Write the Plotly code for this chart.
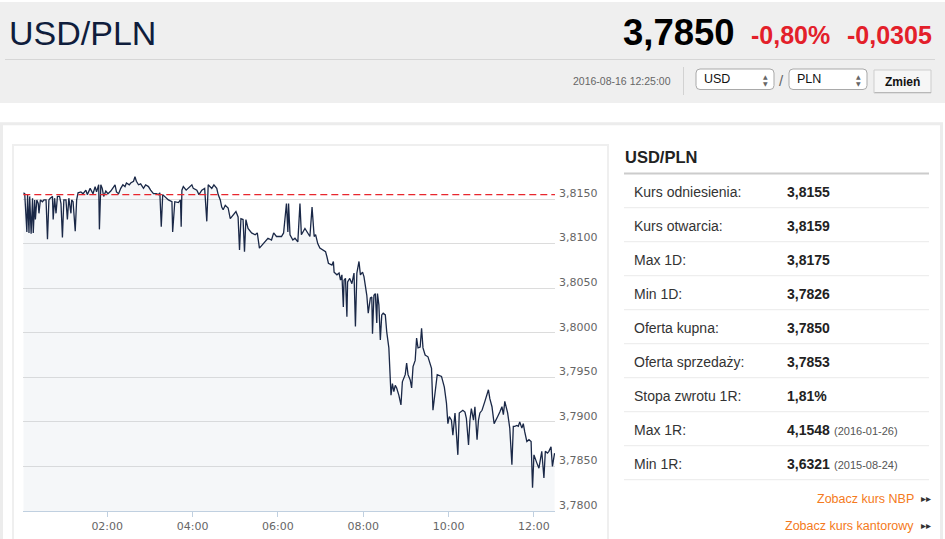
import plotly.graph_objects as go

# ---------------- data ----------------
pair = "USD/PLN"
last_price = "3,7850"
change_pct = "-0,80%"
change_abs = "-0,0305"
timestamp = "2016-08-16 12:25:00"
trade_date = "2016-08-16"
reference_rate = 3.8155  # "Kurs odniesienia" (red dashed line)

times = [
    "00:02", "00:04", "00:07", "00:08", "00:10", "00:11", "00:13", "00:15", "00:16", "00:18",
    "00:19", "00:21", "00:23", "00:24", "00:26", "00:29", "00:31", "00:34", "00:36", "00:38",
    "00:40", "00:43", "00:44", "00:46", "00:48", "00:50", "00:53", "00:55", "00:57", "00:59",
    "01:02", "01:04", "01:06", "01:09", "01:10", "01:12", "01:15", "01:17", "01:19",
    "01:23", "01:26", "01:30", "01:32", "01:36", "01:40", "01:43", "01:45", "01:48", "01:49",
    "01:51", "01:53", "01:55", "01:58", "02:01", "02:05", "02:08", "02:11", "02:13", "02:16",
    "02:19", "02:22", "02:25", "02:27", "02:31", "02:33", "02:37", "02:39", "02:41", "02:44",
    "02:47", "02:51", "02:54", "02:58", "03:01", "03:05", "03:09", "03:12", "03:14", "03:16",
    "03:18",
    "03:21", "03:26", "03:31", "03:32", "03:35", "03:40", "03:43", "03:44", "03:45", "03:47",
    "03:51", "03:54", "03:59", "04:01", "04:06", "04:09", "04:13", "04:17", "04:20", "04:22",
    "04:27", "04:30", "04:34", "04:36", "04:39", "04:41", "04:43", "04:46", "04:50", "04:53",
    "04:57", "05:01", "05:04", "05:06", "05:08", "05:11", "05:13", "05:15", "05:18", "05:23",
    "05:28", "05:31", "05:34", "05:36", "05:39", "05:43", "05:46", "05:51", "05:54", "05:58",
    "06:03", "06:05", "06:08", "06:12", "06:14", "06:15", "06:17", "06:21", "06:24", "06:28",
    "06:31", "06:33", "06:38", "06:42", "06:45", "06:48", "06:51", "06:53", "06:56", "06:59",
    "07:04", "07:07", "07:09", "07:11", "07:16", "07:18", "07:19", "07:23", "07:26", "07:28",
    "07:30", "07:32", "07:33", "07:35", "07:37", "07:38", "07:41", "07:44", "07:47", "07:49",
    "07:51", "07:54", "07:56", "07:59", "08:01", "08:05", "08:07", "08:10", "08:12", "08:13",
    "08:15", "08:17", "08:19", "08:20", "08:22", "08:24", "08:26", "08:28", "08:31", "08:33",
    "08:36", "08:39", "08:41", "08:43", "08:45", "08:47", "08:50", "08:53", "08:55", "08:59",
    "09:01", "09:03", "09:06", "09:08", "09:10", "09:13", "09:15", "09:17", "09:20", "09:22",
    "09:24", "09:27", "09:31", "09:34", "09:36", "09:38", "09:41",
    "09:44", "09:50", "09:54", "09:57", "09:59", "10:01", "10:04", "10:06", "10:09", "10:13",
    "10:15", "10:20", "10:23", "10:25", "10:28", "10:30", "10:32", "10:35", "10:37", "10:40",
    "10:42", "10:44", "10:47", "10:51", "10:54", "10:56", "10:58", "11:01", "11:04", "11:07",
    "11:09", "11:12", "11:15", "11:17", "11:19", "11:23", "11:26", "11:29", "11:31", "11:33",
    "11:36", "11:38", "11:40", "11:43", "11:45", "11:47", "11:50", "11:53", "11:56", "11:58",
    "12:00", "12:04", "12:07", "12:11", "12:14", "12:16", "12:19", "12:21", "12:24", "12:26",
    "12:29",
]

prices = [
    3.8157, 3.8156, 3.8113, 3.8155, 3.8112, 3.8153, 3.8111, 3.8151, 3.8112, 3.8149,
    3.8127, 3.8149, 3.8145, 3.8134, 3.8149, 3.8147, 3.8149, 3.8149, 3.8105, 3.8149,
    3.8151, 3.8153, 3.8127, 3.8151, 3.8134, 3.8153, 3.8153, 3.8145, 3.8107, 3.8149,
    3.8149, 3.8127, 3.8151, 3.8134, 3.8149, 3.8147, 3.8114, 3.8149, 3.8157,
    3.8158, 3.8156, 3.8160, 3.8155, 3.8162, 3.8156, 3.8164, 3.8158, 3.8166, 3.8116,
    3.8166, 3.8162, 3.8153, 3.8159, 3.8156, 3.8159, 3.8162, 3.8166, 3.8158, 3.8156,
    3.8162, 3.8166, 3.8164, 3.8168, 3.8166, 3.8168, 3.8170, 3.8175, 3.8170, 3.8166,
    3.8167, 3.8162, 3.8166, 3.8164, 3.8160, 3.8156, 3.8156, 3.8155, 3.8157, 3.8119,
    3.8155,
    3.8153, 3.8149, 3.8147, 3.8113, 3.8147, 3.8146, 3.8149, 3.8119, 3.8160, 3.8164,
    3.8160, 3.8162, 3.8166, 3.8162, 3.8160, 3.8155, 3.8160, 3.8162, 3.8125, 3.8166,
    3.8162, 3.8166, 3.8162, 3.8155, 3.8149, 3.8141, 3.8138, 3.8143, 3.8140, 3.8128,
    3.8132, 3.8136, 3.8130, 3.8093, 3.8128, 3.8127, 3.8091, 3.8127, 3.8117, 3.8112,
    3.8110, 3.8112, 3.8095, 3.8097, 3.8100, 3.8104, 3.8106, 3.8104, 3.8112, 3.8108,
    3.8108, 3.8108, 3.8112, 3.8145, 3.8113, 3.8145, 3.8110, 3.8104, 3.8106, 3.8102,
    3.8145, 3.8110, 3.8117, 3.8112, 3.8108, 3.8141, 3.8108, 3.8110, 3.8100, 3.8095,
    3.8093, 3.8091, 3.8085, 3.8078, 3.8076, 3.8080, 3.8068, 3.8065, 3.8067, 3.8059,
    3.8065, 3.8029, 3.8059, 3.8061, 3.8018, 3.8057, 3.8061, 3.8055, 3.8067, 3.8007,
    3.8067, 3.8080, 3.8065, 3.8068, 3.8063, 3.8042, 3.8022, 3.8039, 3.8040, 3.7999,
    3.8042, 3.8044, 3.8011, 3.8044, 3.8031, 3.7992, 3.8020, 3.8022, 3.8020, 3.8001,
    3.7983, 3.7930, 3.7943, 3.7934, 3.7941, 3.7938, 3.7930, 3.7919, 3.7945, 3.7953,
    3.7966, 3.7953, 3.7947, 3.7938, 3.7962, 3.7969, 3.7994, 3.7983, 3.7984, 3.8005,
    3.7983, 3.7975, 3.7973, 3.7966, 3.7960, 3.7913, 3.7934,
    3.7953, 3.7951, 3.7939, 3.7921, 3.7898, 3.7906, 3.7902, 3.7885, 3.7910, 3.7863,
    3.7910, 3.7913, 3.7911, 3.7904, 3.7874, 3.7902, 3.7915, 3.7902, 3.7917, 3.7880,
    3.7902, 3.7910, 3.7913, 3.7923, 3.7930, 3.7936, 3.7926, 3.7917, 3.7898, 3.7902,
    3.7906, 3.7911, 3.7917, 3.7908, 3.7923, 3.7910, 3.7893, 3.7852, 3.7895, 3.7895,
    3.7896, 3.7895, 3.7900, 3.7893, 3.7898, 3.7889, 3.7878, 3.7880, 3.7878, 3.7826,
    3.7863, 3.7854, 3.7848, 3.7867, 3.7837, 3.7867, 3.7865, 3.7867, 3.7872, 3.7850,
    3.7865,
]

y_tick_values = [3.7800, 3.7850, 3.7900, 3.7950, 3.8000, 3.8050, 3.8100, 3.8150, 3.8200]
y_tick_labels = ["3,7800", "3,7850", "3,7900", "3,7950", "3,8000", "3,8050", "3,8100", "3,8150", ""]
x_tick_labels = ["02:00", "04:00", "06:00", "08:00", "10:00", "12:00"]
x_range = ["00:02:00", "12:29:36"]

stat_labels = ["Kurs odniesienia:", "Kurs otwarcia:", "Max 1D:", "Min 1D:", "Oferta kupna:",
               "Oferta sprzedaży:", "Stopa zwrotu 1R:", "Max 1R:", "Min 1R:"]
stat_values = ["3,8155", "3,8159", "3,8175", "3,7826", "3,7850", "3,7853", "1,81%", "4,1548", "3,6321"]
stat_notes = ["", "", "", "", "", "", "", "(2016-01-26)", "(2015-08-24)"]
links = ["Zobacz kurs NBP", "Zobacz kurs kantorowy"]

# ---------------- layout helpers (pixel -> paper) ----------------
W, H = 945, 539
FONT = "Liberation Sans, Arial, sans-serif"


def px(x):
    return x / W


def py(y):
    return 1 - y / H


def rect(x0, y0, x1, y1, fill=None, line=None, lw=1, layer="below"):
    return dict(type="rect", xref="paper", yref="paper",
                x0=px(x0), x1=px(x1), y0=py(y1), y1=py(y0),
                fillcolor=fill if fill else "rgba(0,0,0,0)",
                line=dict(color=line if line else "rgba(0,0,0,0)", width=lw if line else 0),
                layer=layer)


def hline(x0, x1, y, color, lw=1):
    return dict(type="line", xref="paper", yref="paper", x0=px(x0), x1=px(x1),
                y0=py(y), y1=py(y), line=dict(color=color, width=lw), layer="below")


def rrect(x0, y0, x1, y1, r, fill, line):
    p = (f"M {px(x0 + r)},{py(y0)} L {px(x1 - r)},{py(y0)} Q {px(x1)},{py(y0)} {px(x1)},{py(y0 + r)} "
         f"L {px(x1)},{py(y1 - r)} Q {px(x1)},{py(y1)} {px(x1 - r)},{py(y1)} "
         f"L {px(x0 + r)},{py(y1)} Q {px(x0)},{py(y1)} {px(x0)},{py(y1 - r)} "
         f"L {px(x0)},{py(y0 + r)} Q {px(x0)},{py(y0)} {px(x0 + r)},{py(y0)} Z")
    return dict(type="path", xref="paper", yref="paper", path=p, fillcolor=fill,
                line=dict(color=line, width=1), layer="below")


def text(x, y, s, size, color="#333", xanchor="left", family=FONT):
    return dict(x=px(x), y=py(y), xref="paper", yref="paper", text=s, showarrow=False,
                xanchor=xanchor, yanchor="middle", font=dict(family=family, size=size, color=color),
                align=xanchor if xanchor != "center" else "center")


# ---------------- figure ----------------
x_dates = [f"{trade_date} {t}" for t in times]

fig = go.Figure()
fig.add_trace(go.Scatter(
    x=x_dates, y=prices, mode="lines",
    line=dict(color="#1a2847", width=1.3),
    fill="tozeroy", fillcolor="rgba(200,208,222,0.18)",
    hoverinfo="skip", showlegend=False,
))

shapes = [
    # header band
    rect(0, 2, 945, 103, fill="#efefef"),
    hline(5, 935, 59.5, "#d6d6d6"),
    dict(type="line", xref="paper", yref="paper", x0=px(683.5), x1=px(683.5), y0=py(95), y1=py(67),
         line=dict(color="#d2d2d2", width=1), layer="below"),
    rrect(696, 69, 774, 89.5, 4, "#ffffff", "#a9a9a9"),
    rrect(789, 69, 867, 89.5, 4, "#ffffff", "#a9a9a9"),
    rect(874, 70, 931, 93, fill="#f6f6f6", line="#cdcdcd"),
    hline(874.5, 931, 92.5, "#b8b8b8"),
    # content container + chart box
    rect(1.5, 123.8, 941.5, 560, line="#ececec", lw=3),
    rect(13, 145, 608, 560, line="#efefef", lw=2),
    # stats table
    hline(624, 929, 173.5, "#cccccc", 2),
]
row_lines = [207.7 + 34 * i for i in range(len(stat_labels))]
for yy in row_lines:
    shapes.append(hline(624, 929, yy, "#ebebeb"))

# reference (kurs odniesienia) dashed line
shapes.append(dict(type="line", xref="paper", yref="y", x0=px(23.3), x1=px(555),
                   y0=reference_rate, y1=reference_rate,
                   line=dict(color="#e8262d", width=1.4, dash="7px,4px"), layer="above"))

ann = [
    text(7, 33, pair, 34, "#0f1d3c"),
    text(737, 33, f"<b>{last_price}</b>", 36.5, "#000000", xanchor="right"),
    text(749, 35, f"<b>{change_pct}</b>", 25, "#e3202a"),
    text(845, 35, f"<b>{change_abs}</b>", 25, "#e3202a"),
    text(673, 81, timestamp, 10.5, "#666666", xanchor="right"),
    text(702, 79.5, "USD", 12.5, "#111111"),
    text(795, 79.5, "PLN", 12.5, "#111111"),
    text(765.5, 76.5, "▲", 6, "#666666", xanchor="center", family="DejaVu Sans"),
    text(765.5, 83, "▼", 6, "#666666", xanchor="center", family="DejaVu Sans"),
    text(858.5, 76.5, "▲", 6, "#666666", xanchor="center", family="DejaVu Sans"),
    text(858.5, 83, "▼", 6, "#666666", xanchor="center", family="DejaVu Sans"),
    text(781.5, 80, "/", 15, "#666666", xanchor="center"),
    text(902.5, 81.5, "<b>Zmień</b>", 12, "#111111", xanchor="center"),
    text(623, 157, f"<b>{pair}</b>", 16.5, "#222222"),
]
for i, (lab, val, note) in enumerate(zip(stat_labels, stat_values, stat_notes)):
    yy = 191.7 + 34 * i
    ann.append(text(632, yy, lab, 14, "#333333"))
    ann.append(text(784.5, yy, f"<b>{val}</b>", 14, "#222222"))
    if note:
        ann.append(text(832, yy + 1, note, 11, "#555555"))
for i, lk in enumerate(links):
    yy = 498.5 + 27 * i
    ann.append(text(916, yy, lk, 12.5, "#f47a20", xanchor="right"))
    ann.append(text(919, yy, "▸▸", 10, "#333333", family="DejaVu Sans"))

fig.update_layout(
    width=W, height=H,
    margin=dict(l=0, r=0, t=0, b=0, autoexpand=False),
    paper_bgcolor="#ffffff",
    plot_bgcolor="rgba(0,0,0,0)",
    showlegend=False,
    shapes=shapes,
    annotations=ann,
    font=dict(family=FONT),
    xaxis=dict(
        type="date",
        automargin=False,
        domain=[px(23.3), px(555)],
        range=[f"{trade_date} {x_range[0]}", f"{trade_date} {x_range[1]}"],
        tickvals=[f"{trade_date} {t}" for t in x_tick_labels],
        ticktext=x_tick_labels,
        ticks="outside", ticklen=5, tickcolor="#c0d0e0", tickwidth=1,
        showline=True, linecolor="#c0d0e0", linewidth=1,
        showgrid=False, zeroline=False,
        tickfont=dict(family="DejaVu Sans", size=11, color="#666666"),
        fixedrange=True,
    ),
    yaxis=dict(
        automargin=False,
        domain=[py(511), py(154.5)],
        range=[3.78, 3.82],
        side="right",
        tickvals=y_tick_values,
        ticktext=y_tick_labels,
        ticks="",
        showgrid=True, gridcolor="#dcdcdc", gridwidth=1,
        showline=False, zeroline=False,
        ticklabelshift=-6, ticklabelstandoff=3,
        tickfont=dict(family="DejaVu Sans", size=11, color="#666666"),
        fixedrange=True,
    ),
)

fig.write_html(
    "out.html",
    config={"displayModeBar": False},
    post_script="document.body.style.margin='0';document.body.style.overflow='hidden';",
)
